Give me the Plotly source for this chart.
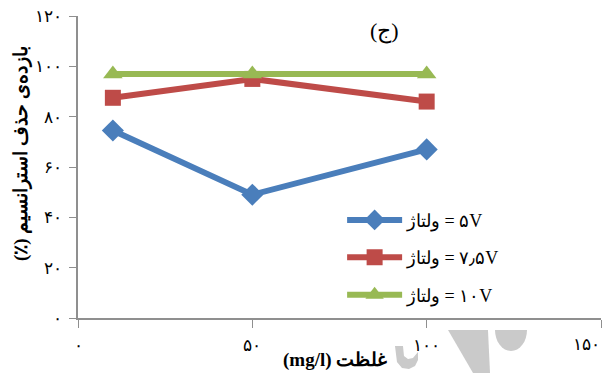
import math
import plotly.graph_objects as go

# Strontium removal efficiency vs. concentration at three voltages
concentration = [10, 50, 100]
eff_5v = [74.5, 49, 67]
eff_7_5v = [87.5, 95, 86]
eff_10v = [97, 97, 97]

series_names = [
    "ولتاژ\u200e = ۵V",
    "ولتاژ\u200e = ۷٫۵V",
    "ولتاژ\u200e = ۱۰V",
]
series_values = [eff_5v, eff_7_5v, eff_10v]
series_colors = ["#4A7EBB", "#BE4B48", "#98B954"]
series_symbols = ["diamond", "square", "triangle-up"]
series_msize = [17, 16, 17]

x_tick_vals = [0, 50, 100, 150]
x_tick_text = ["۰", "۵۰", "۱۰۰", ""]
x_last_label = "۱۵۰"
y_tick_vals = [0, 20, 40, 60, 80, 100, 120]
y_tick_text = ["۰", "۲۰", "۴۰", "۶۰", "۸۰", "۱۰۰", "۱۲۰"]

W, H = 607, 373
L, R, T, B = 78, 6, 16, 55

fig = go.Figure()
for i, (name, vals, col, sym, ms) in enumerate(
        zip(series_names, series_values, series_colors, series_symbols, series_msize)):
    fig.add_trace(go.Scatter(
        x=concentration, y=vals, name=name, mode="lines+markers",
        line=dict(color=col, width=6),
        marker=dict(symbol=sym, size=ms, color=col),
        legendgroup=f"g{i}",
    ))

serif = "Liberation Serif, DejaVu Serif, serif"
axis_col = "#8f8f8f"


def px_to_paper(px, py):
    pw, ph = W - L - R, H - T - B
    return (px - L) / pw, (H - B - py) / ph


def polygon(points):
    pp = [px_to_paper(*p) for p in points]
    return "M" + " L".join(f"{a:.4f},{b:.4f}" for a, b in pp) + " Z"


def half_ellipse(cx, cy, rx, ry, n=16):
    return [(cx + rx * math.cos(math.pi * k / n), cy + ry * math.sin(math.pi * k / n))
            for k in range(n + 1)]


# faint logo fragments along the bottom edge
wm = "#cacaca"
hook = [(395, 346), (403, 346), (404, 356), (408, 359), (413, 358), (418, 352),
        (418, 360), (415, 366), (409, 369), (402, 368), (397, 362)]
wedge = [(448, 330), (488, 330), (490, 373), (473, 373)]
bowl = half_ellipse(511, 330, 16, 21)
shapes = [
    dict(type="path", xref="paper", yref="paper", layer="below",
         path=polygon(pts), fillcolor=wm, line=dict(width=0))
    for pts in (hook, wedge, bowl)
]

ax, ay = px_to_paper(384, 31)
tx, ty = px_to_paper(21, 154)
xx, xy = px_to_paper(335, 360)
lx, ly = px_to_paper(601, 345)

fig.update_layout(
    width=W, height=H,
    margin=dict(l=L, r=R, t=T, b=B, autoexpand=False),
    paper_bgcolor="white", plot_bgcolor="white",
    showlegend=True,
    legend=dict(x=0.505, y=0.385, xanchor="left", yanchor="top",
                font=dict(family=serif, size=18, color="black"),
                itemwidth=55, tracegroupgap=11, bgcolor="rgba(0,0,0,0)"),
    xaxis=dict(range=[0, 150], tickvals=x_tick_vals, ticktext=x_tick_text,
               showgrid=False, zeroline=False, showline=True, linecolor=axis_col,
               linewidth=1.5, ticks="outside", ticklen=8, tickcolor=axis_col,
               ticklabelstandoff=3, automargin=False,
               tickfont=dict(family=serif, size=17, color="black")),
    yaxis=dict(range=[0, 120], tickvals=y_tick_vals, ticktext=y_tick_text,
               showgrid=False, zeroline=False, showline=True, linecolor=axis_col,
               linewidth=1.5, ticks="outside", ticklen=7, tickcolor=axis_col,
               ticklabelstandoff=4, ticklabeloverflow="allow", automargin=False,
               tickfont=dict(family=serif, size=17, color="black")),
    shapes=shapes,
    annotations=[
        # right-most x tick label, kept inside the page edge
        dict(text=x_last_label, x=x_tick_vals[-1], xref="x", y=ly, yref="paper",
             showarrow=False, xanchor="right", yanchor="middle", xshift=1,
             font=dict(family=serif, size=17, color="black")),
        dict(text="(ج)", x=ax, y=ay, xref="paper", yref="paper", showarrow=False,
             xanchor="center", yanchor="middle",
             font=dict(family=serif, size=22, color="black")),
        dict(text="<b>بازده\u200cی حذف استرانسیم (٪)\u200f</b>", x=tx, y=ty,
             xref="paper", yref="paper", showarrow=False, textangle=-90,
             xanchor="center", yanchor="middle",
             font=dict(family=serif, size=19, color="black")),
        dict(text="<b>(mg/l) غلظت</b>", x=xx, y=xy, xref="paper", yref="paper",
             showarrow=False, xanchor="center", yanchor="middle",
             font=dict(family=serif, size=19, color="black")),
    ],
)

fig.write_html("out.html")
